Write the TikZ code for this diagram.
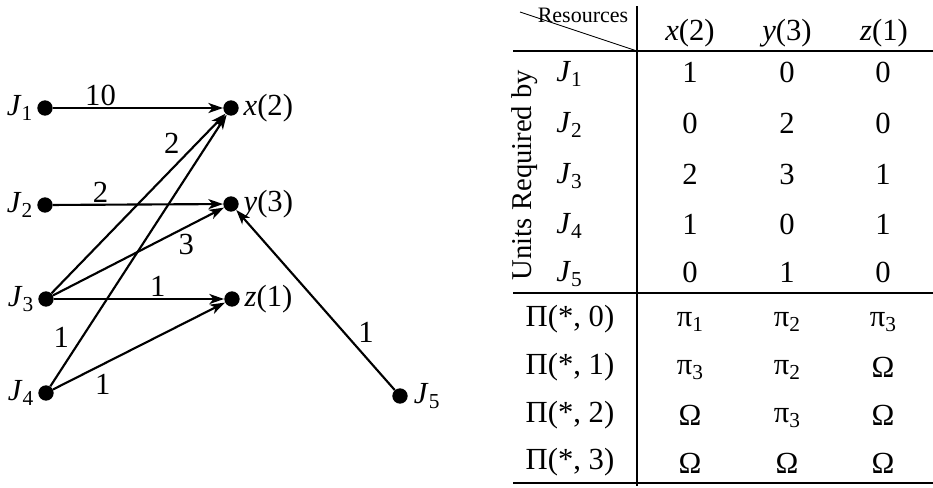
\documentclass[tikz,border=0pt]{standalone}
\usepackage{fontspec}
\setmainfont{Liberation Serif}
\usetikzlibrary{arrows.meta}
\newcommand\lsub[1]{\raisebox{-0.4ex}{\fontsize{16}{16}\selectfont #1}}
\newcommand\Jj[1]{\textit{J}\lsub{#1}}
\newcommand\pij[1]{π\lsub{#1}}
\begin{document}
\begin{tikzpicture}[x=0.75pt,y=-0.75pt,
  every node/.style={font=\fontsize{23}{26}\selectfont},
  dot/.style={circle,fill=black,inner sep=0pt,minimum size=11.5pt},
  arr/.style={line width=1.6pt,-{Stealth[length=11pt,width=7.5pt,inset=3pt]}},
  lab/.style={inner sep=1pt},
  cell/.style={anchor=center,inner sep=0pt}]
\useasboundingbox (0,0) rectangle (933,487);
% graph
\node[dot,label={[label distance=0pt]left:\Jj{1}}] (J1) at (45,108) {};
\node[dot,label={[label distance=0pt]left:\Jj{2}}] (J2) at (45,205) {};
\node[dot,label={[label distance=0pt]left:\Jj{3}}] (J3) at (46,299) {};
\node[dot,label={[label distance=0pt]left:\Jj{4}}] (J4) at (46,393) {};
\node[dot,label={[label distance=1pt]right:\Jj{5}}] (J5) at (400,396) {};
\node[dot,label={[label distance=0pt]right:\textit{x}(2)}] (X) at (231,108) {};
\node[dot,label={[label distance=0pt]right:\textit{y}(3)}] (Y) at (231,204) {};
\node[dot,label={[label distance=0pt]right:\textit{z}(1)}] (Z) at (232,299) {};
\draw[arr] (J1) -- node[lab,pos=0.28,above] {10} (X);
\draw[arr] (J2) -- node[lab,pos=0.28,above] {2} (Y);
\draw[arr] (J3) -- node[lab,pos=0.78,above left,xshift=-4pt,yshift=-2pt] {2} (X);
\draw[arr] (J3) -- node[lab,pos=0.78,below,yshift=-4pt] {3} (Y);
\draw[arr] (J3) -- node[lab,pos=0.61,above] {1} (Z);
\draw[arr] (J4) -- node[lab,pos=0.18,left,xshift=-8pt] {1} (X);
\draw[arr] (J4) -- node[lab,pos=0.29,below,yshift=-6pt] {1} (Z);
\draw[arr] (J5) -- node[lab,pos=0.32,right,xshift=9pt] {1} (Y);
% table
\coordinate (vt) at (637,6);
\coordinate (vb) at (637,486);
\coordinate (r1l) at (513,51);
\coordinate (r1r) at (933,51);
\coordinate (r2l) at (513,293);
\coordinate (r2r) at (933,293);
\coordinate (r3l) at (513,483);
\coordinate (r3r) at (933,483);
\coordinate (dg) at (520,12);
\coordinate (dc) at (637,51);
\draw[line width=1.5pt] (vt) -- (vb);
\draw[line width=1.8pt] (r1l) -- (r1r);
\draw[line width=0.9pt] (r2l) -- (r2r);
\draw[line width=0.9pt] (r3l) -- (r3r);
\draw[line width=0.7pt] (dg) -- (dc);
\node[cell,font=\fontsize{16.5}{18}\selectfont] (res) at (583,15) {Resources};
\node[cell] (hx) at (690,33) {\textit{x}(2)};
\node[cell] (hy) at (787,33) {\textit{y}(3)};
\node[cell] (hz) at (884,33) {\textit{z}(1)};
\node[cell,rotate=90,font=\fontsize{21.5}{24}\selectfont] (urb) at (525,175) {Units Required by};
\node[cell] (rj1) at (569,74) {\Jj{1}};
\node[cell] (rj2) at (569,125) {\Jj{2}};
\node[cell] (rj3) at (569,176) {\Jj{3}};
\node[cell] (rj4) at (569,226) {\Jj{4}};
\node[cell] (rj5) at (569,274) {\Jj{5}};
\foreach \r/\y/\a/\b/\c in {1/72/1/0/0, 2/123/0/2/0, 3/174/2/3/1, 4/224/1/0/1, 5/272/0/1/0}{
  \node[cell] (a\r) at (690,\y) {\a};
  \node[cell] (b\r) at (787,\y) {\b};
  \node[cell] (c\r) at (883,\y) {\c};
}
\node[cell] (p0) at (570,319) {Π(*, 0)};
\node[cell] (p1) at (570,367) {Π(*, 1)};
\node[cell] (p2) at (570,415) {Π(*, 2)};
\node[cell] (p3) at (570,462) {Π(*, 3)};
\node[cell] (p0a) at (690,322) {\pij{1}};
\node[cell] (p0b) at (787,322) {\pij{2}};
\node[cell] (p0c) at (883,322) {\pij{3}};
\node[cell] (p1a) at (690,370) {\pij{3}};
\node[cell] (p1b) at (787,370) {\pij{2}};
\node[cell] (p1c) at (883,367) {Ω};
\node[cell] (p2a) at (690,415) {Ω};
\node[cell] (p2b) at (787,418) {\pij{3}};
\node[cell] (p2c) at (883,415) {Ω};
\node[cell] (p3a) at (690,463) {Ω};
\node[cell] (p3b) at (787,463) {Ω};
\node[cell] (p3c) at (883,463) {Ω};
\end{tikzpicture}
\end{document}
